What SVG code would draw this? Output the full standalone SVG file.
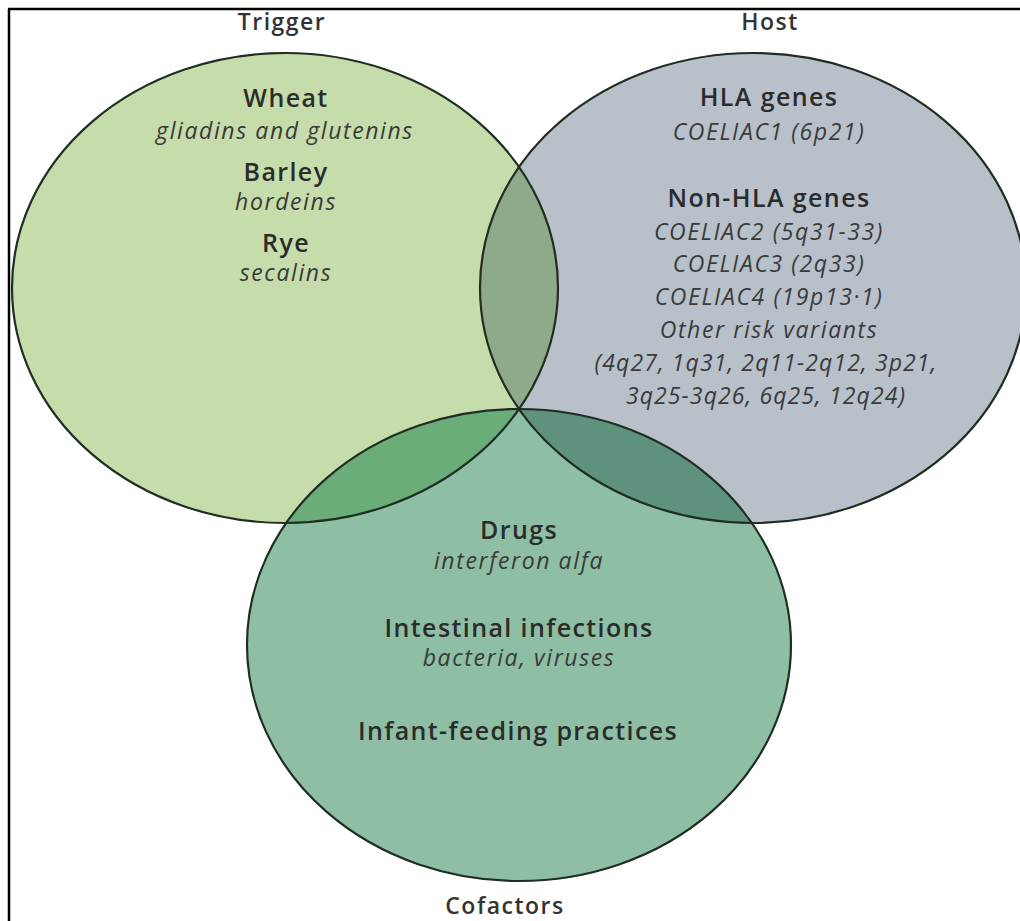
<svg xmlns="http://www.w3.org/2000/svg" width="1020" height="921" viewBox="0 0 1020 921">
<style>
  .title{font-family:"Open Sans","Liberation Sans",sans-serif;font-weight:600;font-size:23px;letter-spacing:1.5px;fill:#333;text-anchor:middle}
  .head{font-family:"Open Sans","Liberation Sans",sans-serif;font-weight:600;font-size:25px;letter-spacing:1.4px;fill:#2b2b2b;text-anchor:middle}
  .sub{font-family:"Open Sans","Liberation Sans",sans-serif;font-style:italic;font-size:23px;letter-spacing:1.6px;fill:#3a3a3a;text-anchor:middle}
  .long{letter-spacing:1.1px}
  .edge{fill:none;stroke:#1f2d22;stroke-width:2.2}
</style>
<defs>
  <ellipse id="eT" cx="285" cy="288" rx="273" ry="235"/>
  <ellipse id="eH" cx="753" cy="288" rx="273" ry="235"/>
  <ellipse id="eC" cx="519" cy="645" rx="272" ry="236"/>
  <clipPath id="cT"><use href="#eT"/></clipPath>
  <clipPath id="cH"><use href="#eH"/></clipPath>
</defs>
<rect width="1020" height="921" fill="#fff"/>
<line x1="8" y1="9" x2="1020" y2="9" stroke="#000" stroke-width="2.5"/>
<line x1="9" y1="9" x2="9" y2="921" stroke="#000" stroke-width="2.5"/>

<g id="fills">
  <use href="#eT" fill="#c6ddab"/>
  <use href="#eH" fill="#b8c1ca"/>
  <use href="#eC" fill="#8ebfa5"/>
  <use href="#eH" fill="#8faa89" clip-path="url(#cT)"/>
  <use href="#eC" fill="#6bad78" clip-path="url(#cT)"/>
  <use href="#eC" fill="#5f927c" clip-path="url(#cH)"/>
</g>

<g id="trigger">
  <use href="#eT" class="edge"/>
  <text class="title" x="282" y="30">Trigger</text>
  <text class="head" x="286" y="107">Wheat</text>
  <text class="sub" x="285" y="139">gliadins and glutenins</text>
  <text class="head" x="286" y="181">Barley</text>
  <text class="sub" x="286" y="210">hordeins</text>
  <text class="head" x="286" y="252">Rye</text>
  <text class="sub" x="286" y="281">secalins</text>
</g>

<g id="host">
  <use href="#eH" class="edge"/>
  <text class="title" x="770" y="30">Host</text>
  <text class="head" x="769" y="106">HLA genes</text>
  <text class="sub" x="769" y="140">COELIAC1 (6p21)</text>
  <text class="head" x="769" y="207">Non-HLA genes</text>
  <text class="sub" x="769" y="240">COELIAC2 (5q31-33)</text>
  <text class="sub" x="769" y="272">COELIAC3 (2q33)</text>
  <text class="sub" x="769" y="305">COELIAC4 (19p13·1)</text>
  <text class="sub" x="769" y="338">Other risk variants</text>
  <text class="sub long" x="766" y="371">(4q27, 1q31, 2q11-2q12, 3p21,</text>
  <text class="sub long" x="766" y="404">3q25-3q26, 6q25, 12q24)</text>
</g>

<g id="cofactors">
  <use href="#eC" class="edge"/>
  <text class="title" x="505" y="914">Cofactors</text>
  <text class="head" x="519" y="539">Drugs</text>
  <text class="sub" x="519" y="569">interferon alfa</text>
  <text class="head" x="519" y="637">Intestinal infections</text>
  <text class="sub" x="519" y="666">bacteria, viruses</text>
  <text class="head" x="518" y="740">Infant-feeding practices</text>
</g>

<g id="connectors"/>
</svg>
